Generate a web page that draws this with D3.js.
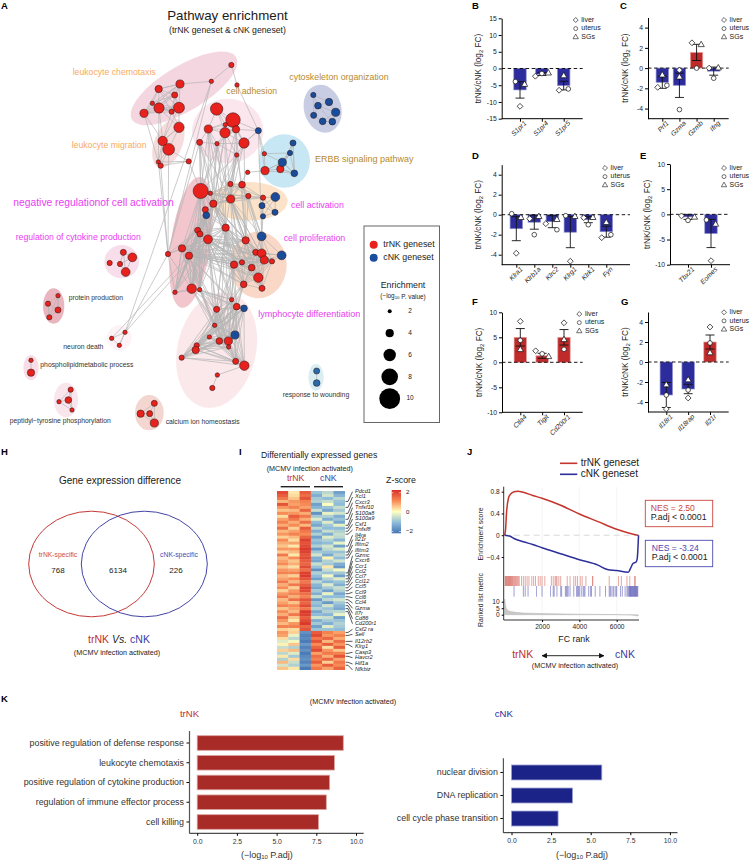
<!DOCTYPE html>
<html>
<head>
<meta charset="utf-8">
<script src="https://cdnjs.cloudflare.com/ajax/libs/d3/7.8.5/d3.min.js"></script>
<style>
  html, body { margin: 0; padding: 0; background: #fff; }
  svg { display: block; font-family: "Liberation Sans", Arial, sans-serif; }
  svg text { fill: #1a1a1a; }
</style>
</head>
<body>
<svg id="chart" width="750" height="860"></svg>
<script>
// ---- A: network, layout (units are 1/3 px)
const nodeX = [694,634,711,540,476,524,457,477,537,515,432, 537,488,506,475,482,566,
  650,699,676,708,625,675,732,599,651,710,775, 793,743,795,841,879,870,847,883,
  940,987,954,1007,941,968,997, 691,726,602,631,640,692,745,789,826,786,825,789,
  616,619,677,593,600,624,546,567,504,575,599,525,
  737,785,767,785,845,793,816,726,702,755,775,731,786,
  695,710,732,650,644,705,628,658,685,590,587,686,545,707,733,652,637,
  370,397,329,360,377, 174,144,174,148, 375,335,358, 93,93, 212,205,177,216, 463,422,449,463, 950,950];
const nodeY = [195,244,255,252,267,285,310,324,323,335,340, 382,423,448,486,497,484,
  327,360,374,388,387,398,429,427,431,465,392, 461,517,512,507,429,459,487,520,
  285,306,317,337,346,364,365, 552,554,573,580,611,597,588,593,591,617,637,649,
  629,646,683,691,702,718,745,767,762,866,869,877,
  721,709,757,760,766,780,784,787,794,803,833,853,865,
  899,920,925,928,976,1005,1011,1023,1023,1036,1050,1041,1073,1084,1097,1125,1164,
  757,772,789,792,816, 887,911,930,952, 997,1015,1036, 1081,1118, 1169,1200,1205,1230, 1210,1241,1241,1269, 1113,1149];
const nodeEnrich = [2.6,2.2,2.2,4,3.6,3,2.2,5,5.3,2.6,4, 5,4.6,5.7,2.2,2.6,2.6,
  6,7,2.2,3.6,4,5,5,3,2.2,2.2,3, 2.2,2.2,4,3.6,3,2.6,4,3.3,
  2.6,3.6,3.3,4,3,3.3,3.3, 2.6,3.3,7.3,2.2,3.6,4,2.6,2.6,4.3,3,3,2.6,
  3,3.3,3.6,3,3,4.3,3.6,3.6,2.6,4.6,2.2,2.2,
  3.6,4.3,3,4.3,4.3,4,2.6,2.6,3.6,3.3,4.6,3.3,3,
  2.2,3.3,3.3,3,2.2,4,2.2,3.3,4,2.6,3.6,2.2,2.6,3,4.6,2.2,2.6,
  3,4.3,2.6,2.6,4.3, 2.2,2.6,3,2.6, 2.2,2.2,2.2, 2.2,3.6, 2.6,3.3,2.2,2.2, 3,3.6,3,4, 3,3.3];
const blueNodes = [27,32,33,34,35,36,37,38,39,40,41,42,51,52,53,54,56,68,71,82,85];
const woundNodes = [119,120];

// groups joined all-to-all
const edgeCliques = [
  [3,4,5,6,7,8,9,10],[7,8,9,11,12],[11,12,13],[12,13,14,15],[14,15,16],
  [17,18,19,20,21,22],[20,22,23,25,26],[21,24,25],[18,20,23,27],
  [30,31,34,35],[31,33,34,35,32],[28,30,34],
  [43,44,46,47,48,49,50],[50,51,52,53,54],[45,46,47,48],
  [45,47,55,56,57,58,59,60,61,62,64,65,66],
  [67,69,70,72,73,74,75,76,77,78,79],[68,69,70,71,72,73],
  [80,81,82,83,84,85,86,87,88,89,90,91,92,93,94],
  [97,98,100,101],[102,103,104,105],[106,107,108],[109,110],[111,112,113,114],[115,116,117,118],[119,120]
];
// groups joined across
const edgeBridges = [
  [[47,48,57,60,61,62,59],[67,69,72,74,75,76,77,78]],
  [[60,62,64,65,57,75,78],[80,81,83,84,87,88]],
  [[21,22,24,25,26],[45,47,48,57,60]],
  [[23,20],[48,60,67]],
  [[61,62,63],[58,60,64,66]],
  [[44,49,48],[67,68,72]]
];
const edgeExtra = [[0,1],[0,2],[1,3],[3,4],[2,27],[1,63],[1,106],[63,106],[60,106],[62,107],[63,61],[10,13],[10,14],[7,14],[13,63],[15,63],[14,63],[13,16],[16,45],
  [27,28],[27,30],[27,23],[29,30],[29,48],[27,68],[54,68],[52,68],[94,95],[95,96],[36,38],[36,37],[37,38],[37,39],[38,39],[38,40],[39,41],[39,42],[40,41],[41,42],[38,42],[32,35],[33,31],[28,33],
  [36,40],[103,105],[102,104],[108,106],[24,45],[24,63],[26,44],[26,43]];

const hulls = [
  {cx:552,cy:265,rx:182,ry:68,rot:-31,fill:'#f4d6e1'},
  {cx:505,cy:430,rx:42,ry:78,rot:22,fill:'#f6dcdc'},
  {cx:683,cy:393,rx:107,ry:97,rot:0,fill:'#fbe6ee'},
  {cx:853,cy:483,rx:77,ry:80,rot:0,fill:'#c7e7f5'},
  {cx:968,cy:326,rx:56,ry:73,rot:-15,fill:'#c8cde4'},
  {cx:745,cy:604,rx:118,ry:58,rot:0,fill:'#fbe2c8'},
  {cx:573,cy:727,rx:60,ry:198,rot:8,fill:'#f3c5cd'},
  {cx:775,cy:795,rx:85,ry:100,rot:0,fill:'#f9d8c7'},
  {cx:650,cy:1050,rx:118,ry:176,rot:13,fill:'#fbe8ea'},
  {cx:365,cy:785,rx:52,ry:50,rot:0,fill:'#f8deea'},
  {cx:161,cy:918,rx:32,ry:53,rot:0,fill:'#e9b6c0'},
  {cx:358,cy:1013,rx:37,ry:37,rot:0,fill:'#fdf3f7'},
  {cx:93,cy:1103,rx:23,ry:38,rot:0,fill:'#f8dde6'},
  {cx:198,cy:1200,rx:36,ry:52,rot:0,fill:'#f9e6ec'},
  {cx:448,cy:1238,rx:43,ry:53,rot:0,fill:'#f3d6d0'},
  {cx:948,cy:1132,rx:23,ry:40,rot:0,fill:'#d8eef2'}
];
const orange = '#f8aa5e', gold = '#b78a2c', magenta = '#e93df0', darkText = '#333';
const netLabels = [
  ['leukocyte chemotaxis',218,218,8.7,orange],['cell adhesion',679,276,8.7,gold],
  ['cytoskeleton organization',868,233,8.8,gold],['leukocyte migration',215,436,8.7,orange],
  ['ERBB signaling pathway',945,480,9,gold],['negative regulationof cell activation',40,609,10.3,magenta],
  ['cell activation',873,618,8.8,magenta],['cell proliferation',851,717,8.8,magenta],
  ['regulation of cytokine production',47,712,8.7,magenta],['lymphocyte differentiation',775,945,9,magenta],
  ['protein production',206,896,6.8,darkText],['neuron death',190,1043,6.8,darkText],
  ['phospholipidmetabolic process',121,1097,6.8,darkText],['peptidyl\u2212tyrosine phosphorylation',29,1265,6.8,darkText],
  ['calcium ion homeostasis',497,1268,6.8,darkText],['response to wounding',848,1187,6.8,darkText]
];
const enrichLegend = [2,4,6,8,10];

// ---- B-G: qPCR bars
const genesB = ['S1pr1','S1pr4','S1pr5'];
const meanB = [-6.4,-1.7,-5.1], sdB = [2.45,0.4,1.3];
const liverB = [-11.3,-2.3,-6.5], uterusB = [-3.9,-1.5,-6.1], sgB = [-4.8,-1.4,-2.2];
const genesC = ['Prf1','Gzma','Gzmb','Ifng'];
const meanC = [-1.4,-1.7,1.55,-0.3], sdC = [0.6,1.2,0.8,0.4];
const liverC = [-1.9,-0.2,2.5,0], uterusC = [-1.7,-4.1,0,-1], sgC = [-0.7,-0.9,2.3,0];
const genesD = ['Klra1','Klrb1a','Klrc2','Klrg1','Klrk1','Fyn'];
const meanD = [-1.4,-0.75,-0.7,-1.75,-0.5,-1.7], sdD = [1.2,0.7,0.6,1.55,0.3,0.55];
const liverD = [-3.85,-0.4,-0.9,-4.65,-0.3,-2.3], uterusD = [0.1,-2,-1.5,-0.1,-1,-2], sgD = [-0.3,-0.2,-0.5,-0.2,-0.3,-0.8];
const genesE = ['Tbx21','Eomes'];
const meanE = [-0.5,-3.8], sdE = [0.5,2.8];
const liverE = [-0.3,-9.2], uterusE = [-1.2,-1.1], sgE = [-0.6,-2];
const genesF = ['Ctla4','Tigit','Cd200r1'];
const meanF = [5,1.3,5], sdF = [1.75,0.5,1.55];
const liverF = [8.2,2.3,7.9], uterusF = [4.4,1.7,2.6], sgF = [2.5,1.1,4.5];
const genesG = ['Il18r1','Il18rap','Il21r'];
const meanG = [-3.3,-2.7,2], sdG = [1.25,0.47,0.7];
const liverG = [-4.7,-3.6,3.5], uterusG = [-3.3,-2.8,1.9], sgG = [-2.3,-1.8,0.9];

// ---- H: venn
const vennCounts = [768,6134,226];

// ---- I: heatmap, z-scores read row by row (trNK x3, cNK x3)
const heatCols = ['t1','t2','t3','c1','c2','c3'];
const heatRows = [
[1.7,0.2,1.5,-0.9,-0.6,-1.4],[1.5,0.3,1.3,-1.2,-0.4,-1.1],[1.2,0.5,1.6,-0.8,-1,-0.6],[0.6,0.9,1.1,-0.7,-0.5,-0.9],
[1.6,0.8,1,-1.4,0,-1],[0.9,1.1,0.8,-1.1,-0.9,-0.5],[0.5,0.6,1.4,-0.5,-1.3,-0.8],[1,0.9,0.7,-1.6,-0.2,-0.4],
[0.3,1.5,1.2,-0.8,-0.7,-1.2],[0.8,1.2,0.7,-0.3,-1.2,-0.9],[1.1,0.7,1.3,-1,-0.3,-1.3],[0.7,1,0.6,-1.3,-0.8,-0.2],
[1.3,0.4,1.5,-0.6,-1,-1],[0.6,0.8,1.2,-1.2,-0.5,-0.7],[0.9,1.1,1,-0.7,-1.2,-0.5],[0.4,0.6,1.4,-1.4,-0.3,-0.6],
[1,0.3,1.8,-0.9,-0.7,-1.1],[0.7,0.8,1.6,-1.1,-1,-0.2],[0.5,0.2,1.7,-0.7,-0.4,-1.4],[0.9,0.9,1.9,-1.5,-0.6,-0.3],
[0.4,0.6,1.8,-0.8,-0.9,-0.9],[1.2,0.2,1.6,-0.4,-1.3,-0.6],[0.6,1,1.7,-1.2,0.1,-1],[0.8,0.5,1.5,-1.3,-0.7,-0.4],
[1,0.7,1.4,-0.5,-0.8,-1.2],[0.5,0.3,1.7,-0.9,0.2,-1.5],[0.9,0.8,1.3,-1.6,-0.5,-0.1],[1.1,1.1,1.8,-0.7,-0.9,-0.8],
[0.6,0.4,1.9,-1,-0.1,-1.4],[0.8,1,1.6,-1.4,-0.7,-0.3],[1.2,0.6,1.2,-0.6,-1.1,-0.9],[0.7,1.2,1.5,-1.1,-0.3,-1.2],
[1,0.4,1.8,-1.3,-0.8,-0.5],[0.4,0.9,1.7,-0.8,-1.4,-0.7],[0.9,1.1,1.3,-1.2,-0.2,-1.3],[1.2,0.7,1.1,-0.5,-1,-1],
[0.6,1.3,1.6,-1.5,-0.6,-0.4],[0.8,0.5,1.4,-0.9,-1.5,-0.8],[1.1,1,1.7,-1.1,-0.4,-1.1],[0.5,0.8,1.2,-0.7,-0.9,-1.3],
[1,0.6,1.9,-1.3,-0.7,-0.6],[0.7,1.2,1.8,-1,-1.1,-0.2],[1.3,0.5,1.5,-0.4,-0.5,-1.4],[0.9,0.2,1.7,-1.2,-0.8,-0.9],
[0.6,0.9,1.9,-0.8,-1.2,-0.7],[1.1,1.1,1.4,-1.4,-0.3,-0.8],[0.4,0.3,1.6,-0.9,-0.9,-1],
[0.9,0.4,-1.6,1.5,1.1,0.8],[0.8,-0.2,-1.8,1.7,0.9,1.1],[0.3,-0.6,-1.7,1.2,1.4,0.7],[-0.3,-0.1,-1.9,1.6,0.6,1.3],
[0.1,0.5,-1.5,1,1.5,0.9],[-0.5,-0.7,-1.8,1.4,0.3,1.5],[0.4,0.6,-1.6,1.7,0.9,0.5],[-0.6,-0.3,-1.9,0.8,1.2,1.1],
[0.2,-0.8,-1.7,1.3,0.7,1.6],[-0.7,0.3,-1.6,1.1,1.4,0.8],[0.6,-0.5,-1.8,1.5,0.4,1.2],[-0.4,-0.7,-1.5,0.9,1.5,1],[0.5,0.2,-1.9,1.2,0.8,1.4]
];
const heatGenes = ['Pdcd1','Xcl1','Cxcr3','Tnfsf10','S100a8','S100a9','Csf1','Tnfsf8','Il4ra','Il21r','Ifitm2','Ifitm3','Gzmc','Cxcr6','Ccr1','Ccl2','Ccl7','Ccl12','Ccl5','Ccl9','Ccl6','Ccl4','Gzma','Il7r','Cd86','Cd200r1','Csf2 ra','Sell','Il12rb2','Klrg1','Casp3','Havcr2','Hif1a','Nfkbiz'];
const heatGeneRow = [3,5,7,9,11,12,13,14,18,20,21,22,27,28,29,30,31,32,33,34,35,36,37,38,39,40,47,48,50,51,54,55,57,58];
const heatLabelY = [491.7,497,502.7,507.7,513.3,519,524.3,530,535.3,539.7,545,550.3,555.7,561,566.3,571.7,576.7,582,587,592.3,597.7,603,608.3,613.3,618.7,623.7,629.3,634.3,641.3,647,652.3,657.7,664,670];
const zTicks = [2,0,-2];

// ---- J: GSEA
const gseaRank = [0,50,100,200,300,500,700,1000,1500,2000,3000,4000,5000,6000,7000,7150];
const gseaTr = [0,0.12,0.42,0.68,0.75,0.8,0.81,0.79,0.73,0.68,0.55,0.39,0.25,0.11,0.01,0];
const cRankBlue = [0,300,500,1000,1500,2000,3000,4000,5000,5500,6000,6620,6750,6870,7040,7100,7150,7170];
const gseaC = [0,-0.02,-0.06,-0.12,-0.17,-0.23,-0.34,-0.45,-0.55,-0.63,-0.65,-0.68,-0.6,-0.52,-0.49,-0.43,-0.15,0];
const rugTr = [20,50,80,110,140,170,200,230,260,290,320,350,380,420,460,500,540,580,630,680,730,780,900,1000,1100,1200,1300,1450,1550,1650,1800,1900,2000,2150,2500,2600,2700,2750,2800,2900,3000,3350,3500,3700,3800,3900,4050,4150,4350,4700,4720,5600,6100,6250,6550,6700,6950,7000];
const rugC = [500,1000,1100,1250,1700,2000,2450,2600,2650,2800,3000,3050,3250,3300,3350,3400,3500,3700,3850,3900,3950,4000,4100,4200,4250,4300,4500,4600,4650,4850,5100,5400,5600,5650,5700,5800,5850,5950,6000,6200,6300,6450,6550,6600,6650,6680,6710,6740,6770,6800,6830,6860,6890,6920,6950,6980,7010,7040,7070,7100,7130];
const metricRank = [0,30,80,150,300,600,1000,2000,4000,6000,6800,7150];
const metricVal = [12,8,5,3.5,2.5,1.8,1.3,0.9,0.4,0.1,-0.3,-1];

// ---- K: GO terms
const termsTr = ['positive regulation of defense response','leukocyte chemotaxis','positive regulation of cytokine production','regulation of immune effector process','cell killing'];
const valsTr = [9.2,8.64,8.34,8.13,7.64];
const termsC = ['nuclear division','DNA replication','cell cycle phase transition'];
const valsC = [5.7,3.85,2.94];
const kTicks = [0,2.5,5,7.5,10];

const svg = d3.select('#chart');
const red = '#c0302c', blue = '#3c3ca6';

function addText(x, y, str, size, opts = {}) {
  return svg.append('text').attr('x', x).attr('y', y).text(str)
    .style('font-size', size + 'px')
    .attr('text-anchor', opts.anchor || 'start')
    .attr('dominant-baseline', 'middle')
    .style('fill', opts.fill || '#1a1a1a')
    .style('font-weight', opts.bold ? 'bold' : null)
    .style('font-style', opts.italic ? 'italic' : null);
}

// panel letters
[['A',1,6],['B',472,6.5],['C',620,6.5],['D',472,156],['E',640,156],['F',472,302],['G',621,302],['H',1,452],['I',239,452],['J',467,452],['K',1,699.5]]
  .forEach(d => addText(d[1], d[2], d[0], 9.5, { bold: true, fill: '#000' }));

// ---------- A
const net = d3.scaleLinear().domain([0, 1320]).range([0, 440]);
const rScale = d3.scaleLinear().domain([2, 10]).range([2, 10.4]);
const gNet = svg.append('g');

addText(227.5, 16.5, 'Pathway enrichment', 13.3, { anchor: 'middle' });
addText(227.5, 31, '(trNK geneset & cNK geneset)', 8.7, { anchor: 'middle' });

gNet.selectAll('ellipse').data(hulls).join('ellipse')
  .attr('cx', d => net(d.cx)).attr('cy', d => net(d.cy))
  .attr('rx', d => net(d.rx)).attr('ry', d => net(d.ry))
  .attr('transform', d => `rotate(${d.rot} ${net(d.cx)} ${net(d.cy)})`)
  .attr('fill', d => d.fill);

const edges = [];
edgeCliques.forEach(c => c.forEach((a, i) => c.slice(i + 1).forEach(b => edges.push([a, b]))));
edgeBridges.forEach(b => b[0].forEach(p => b[1].forEach(q => edges.push([p, q]))));
edgeExtra.forEach(e => edges.push(e));

gNet.append('g').selectAll('line').data(edges).join('line')
  .attr('x1', d => net(nodeX[d[0]])).attr('y1', d => net(nodeY[d[0]]))
  .attr('x2', d => net(nodeX[d[1]])).attr('y2', d => net(nodeY[d[1]]))
  .attr('stroke', '#b4b4b4').attr('stroke-width', 0.7);

gNet.append('g').selectAll('circle').data(nodeX).join('circle')
  .attr('cx', d => net(d))
  .attr('cy', (d, i) => net(nodeY[i]))
  .attr('r', (d, i) => rScale(nodeEnrich[i]))
  .attr('fill', (d, i) => woundNodes.includes(i) ? '#2a6aa8' : blueNodes.includes(i) ? '#1a4c9c' : '#e8211c')
  .attr('stroke', '#2a1a1a').attr('stroke-width', 0.55);

netLabels.forEach(d => addText(net(d[1]), net(d[2]), d[0], d[3], { fill: d[4] }));

// enrichment legend
svg.append('rect').attr('x', 364).attr('y', 226).attr('width', 75.5).attr('height', 196.5)
  .attr('fill', '#fff').attr('stroke', '#666').attr('stroke-width', 1);
[['trNK geneset', '#e8211c', 244.7], ['cNK geneset', '#1a4c9c', 257.7]].forEach(d => {
  svg.append('circle').attr('cx', 373.7).attr('cy', d[2]).attr('r', 4).attr('fill', d[1]);
  addText(383.3, d[2], d[0], 8.8);
});
addText(403, 285.3, 'Enrichment', 8.8, { anchor: 'middle' });
const pvalLabel = addText(403, 296.7, '(\u2212log', 6.4, { anchor: 'middle' });
pvalLabel.append('tspan').attr('dy', 1.5).style('font-size', '4.4px').text('10');
pvalLabel.append('tspan').attr('dy', -1.5).text(' P. value)');
const legendY = d3.scalePoint().domain(enrichLegend).range([311.3, 398.7]);
enrichLegend.forEach(v => {
  svg.append('circle').attr('cx', 389.7).attr('cy', legendY(v)).attr('r', rScale(v)).attr('fill', '#000');
  addText(410, legendY(v), v, 6.5, { anchor: 'middle' });
});

// ---------- B-G
const shapeDiamond = d3.symbol().type(d3.symbolSquare).size(17)();
const shapeCircle = d3.symbol().type(d3.symbolCircle).size(17)();
const shapeTriangle = d3.symbol().type(d3.symbolTriangle).size(17)();
const markers = [
  { key: 'liver', path: shapeDiamond, rot: 45 },
  { key: 'uterus', path: shapeCircle, rot: 0 },
  { key: 'SGs', path: shapeTriangle, rot: 0 }
];

function barPanel(p) {
  const g = svg.append('g');
  const y = d3.scaleLinear().domain(p.domain).range([p.bottom, p.top]);
  const x = d3.scalePoint().domain(p.genes).range(p.centers);
  const bw = 12.4;

  g.selectAll('rect').data(p.mean).join('rect')
    .attr('x', (d, i) => x(p.genes[i]) - bw / 2)
    .attr('y', d => Math.min(y(d), y(0)))
    .attr('width', bw)
    .attr('height', d => Math.abs(y(d) - y(0)))
    .attr('fill', d => d < 0 ? '#2c2c9c' : '#bf2a2a')
    .attr('stroke', d => d < 0 ? '#8d8dcf' : '#e6a3a3').attr('stroke-width', 0.7);

  // y axis
  g.append('g').attr('transform', `translate(${p.x0},0)`)
    .call(d3.axisLeft(y).tickValues(p.ticks).tickFormat(d => String(d)).tickSize(3).tickPadding(2).tickSizeOuter(0))
    .call(a => a.selectAll('text').style('font-size', '6.8px'))
    .call(a => a.select('.domain').attr('stroke-width', 1));
  // x axis
  g.append('line').attr('x1', p.x0).attr('x2', p.x1).attr('y1', p.bottom).attr('y2', p.bottom).attr('stroke', '#000');
  g.append('g').attr('transform', `translate(0,${p.bottom})`)
    .call(d3.axisBottom(x).tickSize(3).tickPadding(2))
    .call(a => a.select('.domain').remove())
    .call(a => a.selectAll('text').attr('text-anchor', 'end').attr('dx', '1px').attr('dy', '0.45em')
      .attr('transform', 'rotate(-45)').style('font-size', '6.8px').style('font-style', 'italic'));
  // zero line
  g.append('line').attr('x1', p.x0).attr('x2', p.x1).attr('y1', y(0)).attr('y2', y(0))
    .attr('stroke', '#000').attr('stroke-width', 0.9).attr('stroke-dasharray', '3.5 2.5');

  // error bars
  p.mean.forEach((m, i) => {
    const cx = x(p.genes[i]);
    [[cx, cx, y(m + p.sd[i]), y(m - p.sd[i])],
     [cx - 4.5, cx + 4.5, y(m + p.sd[i]), y(m + p.sd[i])],
     [cx - 4.5, cx + 4.5, y(m - p.sd[i]), y(m - p.sd[i])]].forEach(s => {
      g.append('line').attr('x1', s[0]).attr('x2', s[1]).attr('y1', s[2]).attr('y2', s[3])
        .attr('stroke', '#111').attr('stroke-width', 0.9);
    });

    // dots that would overlap are spread sideways
    const pts = markers.map((mk, k) => ({ mk, v: p.pts[k][i] }));
    pts.forEach(a => {
      a.near = pts.filter(b => Math.abs(y(a.v) - y(b.v)) < 6.4);
    });
    pts.forEach(a => {
      const n = a.near.length, idx = a.near.indexOf(a);
      a.dx = n === 1 ? 0 : n === 2 ? (idx === 0 ? -4.6 : 4.6) : (idx - 1) * 6.5;
      g.append('path').attr('d', a.mk.path)
        .attr('transform', `translate(${cx + a.dx},${y(a.v)}) rotate(${a.mk.rot})`)
        .attr('fill', '#fff').attr('stroke', '#111').attr('stroke-width', 0.7);
    });
  });

  // y label
  const ly = (p.top + p.bottom) / 2;
  const lab = g.append('text').attr('transform', `translate(${p.x0 - 20.5},${ly}) rotate(-90)`)
    .attr('text-anchor', 'middle').style('font-size', '8.2px').text('trNK/cNK (log');
  lab.append('tspan').attr('dy', 2).style('font-size', '6px').text('2');
  lab.append('tspan').attr('dy', -2).text(' FC)');

  // legend
  markers.forEach((mk, k) => {
    const ty = p.legY + k * 8.6;
    g.append('path').attr('d', mk.path).attr('transform', `translate(${p.legX},${ty}) rotate(${mk.rot}) scale(0.85)`)
      .attr('fill', '#fff').attr('stroke', '#111').attr('stroke-width', 0.7);
    g.append('text').attr('x', p.legX + 5.6).attr('y', ty).attr('dominant-baseline', 'middle')
      .style('font-size', '7px').text(mk.key);
  });
}

barPanel({ genes: genesB, mean: meanB, sd: sdB, pts: [liverB, uterusB, sgB], domain: [-15, 15], ticks: [-15,-10,-5,0,5,10,15],
  x0: 501.7, x1: 582.7, top: 18.3, bottom: 118.7, centers: [520, 563.7], legX: 575.7, legY: 20 });
barPanel({ genes: genesC, mean: meanC, sd: sdC, pts: [liverC, uterusC, sgC], domain: [-5, 5], ticks: [-4,-2,0,2,4],
  x0: 648, x1: 728.7, top: 17.5, bottom: 118.7, centers: [662.3, 713.7], legX: 724, legY: 20 });
barPanel({ genes: genesD, mean: meanD, sd: sdD, pts: [liverD, uterusD, sgD], domain: [-5, 5], ticks: [-4,-2,0,2,4],
  x0: 501.7, x1: 630, top: 164.7, bottom: 264.7, centers: [516.3, 606.3], legX: 605, legY: 168 });
barPanel({ genes: genesE, mean: meanE, sd: sdE, pts: [liverE, uterusE, sgE], domain: [-10, 10], ticks: [-10,-5,0,5,10],
  x0: 670, x1: 730, top: 164, bottom: 264.7, centers: [688, 711], legX: 724, legY: 168 });
barPanel({ genes: genesF, mean: meanF, sd: sdF, pts: [liverF, uterusF, sgF], domain: [-10, 10], ticks: [-10,-5,0,5,10],
  x0: 502, x1: 582.7, top: 312.3, bottom: 412.3, centers: [520.3, 564], legX: 579.3, legY: 314 });
barPanel({ genes: genesG, mean: meanG, sd: sdG, pts: [liverG, uterusG, sgG], domain: [-5, 5], ticks: [-4,-2,0,2,4],
  x0: 648, x1: 728.7, top: 312, bottom: 412, centers: [666.3, 710], legX: 724, legY: 312.3 });

// ---------- H
addText(120, 481, 'Gene expression difference', 10, { anchor: 'middle' });
svg.append('ellipse').attr('cx', 91.5).attr('cy', 564).attr('rx', 62.8).attr('ry', 52.8)
  .attr('fill', 'none').attr('stroke', '#c23a3a').attr('stroke-width', 1);
svg.append('ellipse').attr('cx', 144.3).attr('cy', 564).attr('rx', 63).attr('ry', 52.8)
  .attr('fill', 'none').attr('stroke', '#4444a8').attr('stroke-width', 1);
addText(58, 555, 'trNK-specific', 6.8, { anchor: 'middle', fill: '#cc4a4a' });
addText(179, 555, 'cNK-specific', 6.8, { anchor: 'middle', fill: '#4a4ab0' });
[58, 118, 176].forEach((x, i) => addText(x, 571, vennCounts[i], 8, { anchor: 'middle' }));
const vs = addText(119, 640, '', 10.5, { anchor: 'middle' });
vs.append('tspan').style('fill', red).text('trNK ');
vs.append('tspan').style('font-style', 'italic').text('Vs. ');
vs.append('tspan').style('fill', blue).text('cNK');
addText(117, 653, '(MCMV infection activated)', 7.2, { anchor: 'middle' });

// ---------- I
addText(261, 455.7, 'Differentially expressed genes', 8.7);
addText(266.7, 469, '(MCMV infection activated)', 7.2);
addText(295.7, 478.3, 'trNK', 8.8, { anchor: 'middle', fill: red });
addText(328.3, 478.3, 'cNK', 8.8, { anchor: 'middle', fill: blue });
svg.append('line').attr('x1', 280.7).attr('x2', 310).attr('y1', 486.7).attr('y2', 486.7).attr('stroke', '#222').attr('stroke-width', 1.4);
svg.append('line').attr('x1', 314).attr('x2', 343).attr('y1', 486.7).attr('y2', 486.7).attr('stroke', '#222').attr('stroke-width', 1.4);

const heatColor = d3.scaleLinear().domain([-2, -1, 0, 1, 2])
  .range(['#4575b4', '#8fbcd9', '#ffffbf', '#f78a55', '#d73027']);
const heatX = d3.scaleBand().domain(heatCols).range([277, 344.7]);
const heatY = d3.scaleBand().domain(d3.range(heatRows.length)).range([491, 669.7]);
svg.append('g').selectAll('g').data(heatRows).join('g')
  .attr('transform', (d, i) => `translate(0,${heatY(i)})`)
  .selectAll('rect').data(d => d).join('rect')
  .attr('x', (d, i) => heatX(heatCols[i]))
  .attr('width', heatX.bandwidth() + 0.3)
  .attr('height', heatY.bandwidth() + 0.3)
  .attr('fill', d => heatColor(d));

heatGenes.forEach((g, i) => {
  const ry = heatY(heatGeneRow[i]) + heatY.bandwidth() / 2;
  svg.append('path').attr('d', d3.line()([[345.5, ry], [348, ry], [352.5, heatLabelY[i]]]))
    .attr('fill', 'none').attr('stroke', '#111').attr('stroke-width', 0.7);
  addText(355, heatLabelY[i], g, 5.6, { italic: true });
});

// z-score key
addText(401, 481, 'Z-score', 8.8, { anchor: 'middle' });
const zY = d3.scaleLinear().domain([2, -2]).range([492.7, 531.5]);
const zDefs = svg.append('defs').append('linearGradient').attr('id', 'zgrad')
  .attr('x1', 0).attr('x2', 0).attr('y1', 0).attr('y2', 1);
[2, 1, 0, -1, -2].forEach((v, i) => zDefs.append('stop').attr('offset', (i / 4)).attr('stop-color', heatColor(v)));
svg.append('rect').attr('x', 391.7).attr('y', 490).attr('width', 9.3).attr('height', 43.3).attr('fill', 'url(#zgrad)');
zTicks.forEach(v => {
  addText(406, zY(v), v === -2 ? '\u22122' : v, 6.2);
  svg.append('line').attr('x1', 391.7).attr('x2', 393.5).attr('y1', zY(v)).attr('y2', zY(v)).attr('stroke', '#fff').attr('stroke-width', 0.6);
  svg.append('line').attr('x1', 399.2).attr('x2', 401).attr('y1', zY(v)).attr('y2', zY(v)).attr('stroke', '#fff').attr('stroke-width', 0.6);
});

// ---------- J
const rankX = d3.scaleLinear().domain([0, 6000]).range([504.7, 616.7]);
const esY = d3.scaleLinear().domain([-0.4, 0.8]).range([557, 491.7]);
const metricY = d3.scaleLinear().domain([0, 10]).range([614.7, 601.7]);
const gsea = svg.append('g');

[2000, 4000, 6000].forEach(v => gsea.append('line').attr('x1', rankX(v)).attr('x2', rankX(v))
  .attr('y1', 487).attr('y2', 620).attr('stroke', '#f0f0f0').attr('stroke-width', 0.7));
gsea.append('line').attr('x1', 503.7).attr('x2', 639).attr('y1', esY(0)).attr('y2', esY(0))
  .attr('stroke', '#d8d8d8').attr('stroke-width', 1).attr('stroke-dasharray', '6 4');

gsea.selectAll('.rugTr').data(rugTr).join('line').attr('class', 'rugTr')
  .attr('x1', d => rankX(d)).attr('x2', d => rankX(d)).attr('y1', 576).attr('y2', 586)
  .attr('stroke', '#d04a40').attr('stroke-width', 0.8).attr('opacity', 0.6);
gsea.selectAll('.rugC').data(rugC).join('line').attr('class', 'rugC')
  .attr('x1', d => rankX(d)).attr('x2', d => rankX(d)).attr('y1', 586).attr('y2', 596.7)
  .attr('stroke', '#3a3aa8').attr('stroke-width', 0.8).attr('opacity', 0.6);

gsea.append('path').datum(metricRank)
  .attr('d', d3.area().x(d => rankX(d)).y0(metricY(0)).y1((d, i) => metricY(metricVal[i])))
  .attr('fill', '#c8c8c8').attr('stroke', '#b8b8b8').attr('stroke-width', 0.5);

gsea.append('path').datum(gseaRank)
  .attr('d', d3.line().x(d => rankX(d)).y((d, i) => esY(gseaTr[i])).curve(d3.curveMonotoneX))
  .attr('fill', 'none').attr('stroke', '#c5352e').attr('stroke-width', 1.5);
gsea.append('path').datum(cRankBlue)
  .attr('d', d3.line().x(d => rankX(d)).y((d, i) => esY(gseaC[i])).curve(d3.curveMonotoneX))
  .attr('fill', 'none').attr('stroke', '#2e2e9c').attr('stroke-width', 1.5);

function styleAxis(a) {
  a.selectAll('text').style('font-size', '6.6px');
  a.select('.domain').remove();
}
gsea.append('line').attr('x1', 503.7).attr('x2', 503.7).attr('y1', 486.7).attr('y2', 620).attr('stroke', '#333').attr('stroke-width', 1);
gsea.append('line').attr('x1', 503.7).attr('x2', 639).attr('y1', 620).attr('y2', 620).attr('stroke', '#333').attr('stroke-width', 1);
gsea.append('g').attr('transform', 'translate(503.7,0)')
  .call(d3.axisLeft(esY).tickValues([-0.4, 0, 0.4, 0.8]).tickFormat(d => d === 0 ? '0' : d3.format('.1f')(d)).tickSize(2).tickPadding(2))
  .call(styleAxis);
gsea.append('g').attr('transform', 'translate(503.7,0)')
  .call(d3.axisLeft(metricY).tickValues([0, 5, 10]).tickSize(2).tickPadding(2))
  .call(styleAxis);
gsea.append('g').attr('transform', 'translate(0,620)')
  .call(d3.axisBottom(rankX).tickValues([2000, 4000, 6000]).tickFormat(d3.format('d')).tickSize(2).tickPadding(2))
  .call(styleAxis);

[['Enrichment score', 534], ['Ranked list metric', 600]].forEach(d => {
  gsea.append('text').attr('transform', `translate(482.5,${d[1]}) rotate(-90)`).attr('text-anchor', 'middle')
    .style('font-size', '6.8px').text(d[0]);
});
addText(574, 640, 'FC rank', 8.8, { anchor: 'middle' });

[['trNK geneset', '#c5352e', 463.3], ['cNK geneset', '#2e2e9c', 474.3]].forEach(d => {
  gsea.append('line').attr('x1', 560).attr('x2', 577.3).attr('y1', d[2]).attr('y2', d[2]).attr('stroke', d[1]).attr('stroke-width', 1.6);
  addText(580.7, d[2], d[0], 10);
});

[{ y: 500.3, c: '#c9453d', t: 'NES = 2.50', x: 650.7 }, { y: 540.3, c: '#4a4ab0', t: 'NES = -3.24', x: 651.7 }].forEach(b => {
  svg.append('rect').attr('x', 645.3).attr('y', b.y).attr('width', 67.4).attr('height', 26.4)
    .attr('fill', '#fff').attr('stroke', b.c).attr('stroke-width', 0.9);
  addText(b.x, b.y + 8, b.t, 8.6, { fill: b.c });
  addText(b.x, b.y + 17.4, 'P.adj < 0.0001', 8.8);
});

addText(522.7, 655, 'trNK', 10.5, { anchor: 'middle', fill: red });
addText(625, 655, 'cNK', 10.5, { anchor: 'middle', fill: blue });
const arrowDefs = svg.select('defs');
arrowDefs.append('marker').attr('id', 'arr').attr('viewBox', '0 0 6 6').attr('refX', 5.5).attr('refY', 3)
  .attr('markerWidth', 6).attr('markerHeight', 6).attr('orient', 'auto-start-reverse')
  .append('path').attr('d', 'M0,0L6,3L0,6Z').attr('fill', '#111');
svg.append('line').attr('x1', 542).attr('x2', 604).attr('y1', 655.7).attr('y2', 655.7)
  .attr('stroke', '#111').attr('stroke-width', 0.9)
  .attr('marker-start', 'url(#arr)').attr('marker-end', 'url(#arr)');
addText(575, 666, '(MCMV infection activated)', 7.2, { anchor: 'middle' });

// ---------- K
addText(353, 701.7, '(MCMV infection activated)', 7.2, { anchor: 'middle' });
addText(189.5, 714, 'trNK', 9.6, { anchor: 'middle', fill: red });
addText(503.8, 714, 'cNK', 9.6, { anchor: 'middle', fill: '#2a2aa0' });

function goPanel(p) {
  const g = svg.append('g');
  const x = d3.scaleLinear().domain([0, 10]).range(p.xr);
  const y = d3.scaleBand().domain(p.terms).range(p.yr).paddingInner(p.pad);
  g.selectAll('rect').data(p.vals).join('rect')
    .attr('x', x(0))
    .attr('y', (d, i) => y(p.terms[i]))
    .attr('width', d => x(d) - x(0))
    .attr('height', y.bandwidth())
    .attr('fill', p.fill).attr('stroke', p.edge).attr('stroke-width', 0.8);
  g.append('g').attr('transform', `translate(${p.x0},0)`)
    .call(d3.axisLeft(y).tickSize(3).tickPadding(2.5))
    .call(a => a.select('.domain').remove())
    .call(a => a.selectAll('text').style('font-size', '8.9px').style('fill', '#333'));
  g.append('line').attr('x1', p.x0).attr('x2', p.x0).attr('y1', p.top).attr('y2', p.bottom).attr('stroke', '#555').attr('stroke-width', 1.2);
  g.append('line').attr('x1', p.x0).attr('x2', p.x1).attr('y1', p.bottom).attr('y2', p.bottom).attr('stroke', '#222').attr('stroke-width', 1);
  g.append('g').attr('transform', `translate(0,${p.bottom})`)
    .call(d3.axisBottom(x).tickValues(kTicks).tickFormat(d3.format('.1f')).tickSize(2.5).tickPadding(3))
    .call(a => a.select('.domain').remove())
    .call(a => a.selectAll('text').style('font-size', '6.8px').style('fill', '#333'));
  const lab = addText(p.labX, 855.7, '(\u2212log', 9, { anchor: 'middle', fill: '#333' });
  lab.append('tspan').attr('dy', 1.6).style('font-size', '6px').text('10');
  lab.append('tspan').attr('dy', -1.6).text(' P.adj)');
}
goPanel({ terms: termsTr, vals: valsTr, xr: [197.2, 356], yr: [735.7, 829.3], pad: 0.26, x0: 189.5, x1: 363.7, top: 731, bottom: 833.3,
  fill: '#a92b27', edge: '#dca3a0', labX: 266.8 });
goPanel({ terms: termsC, vals: valsC, xr: [511.5, 669.9], yr: [765, 826], pad: 0.35, x0: 503.4, x1: 677.5, top: 758.3, bottom: 832.7,
  fill: '#1c2388', edge: '#9a9ed2', labX: 582 });
</script>
</body>
</html>
